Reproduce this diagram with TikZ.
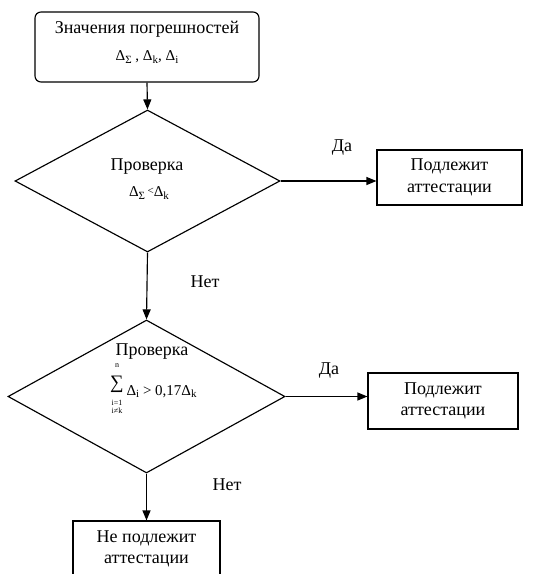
\documentclass[tikz,border=0pt]{standalone}
\usepackage{fontspec}
\setmainfont{Liberation Serif}
\usetikzlibrary{shapes.geometric,arrows.meta}
\newcommand{\bigfnt}{\fontsize{18}{21.5}\selectfont}
\newcommand{\smfnt}{\fontsize{15}{17}\selectfont}
\newcommand{\tinyfnt}{\fontsize{8}{8}\selectfont}
\newcommand{\sumfnt}{\fontsize{19}{19}\selectfont}
\newcommand{\dsub}[1]{Δ\raisebox{-0.35ex}{\fontsize{11}{11}\selectfont #1}}
\begin{document}
\begin{tikzpicture}[x=1pt,y=-1pt,line width=1.15pt,
  box/.style={draw,rectangle,inner sep=0pt,align=center,font=\bigfnt},
  startbox/.style={box,rounded corners=6pt},
  decision/.style={draw,diamond,inner sep=0pt},
  lbl/.style={inner sep=0pt,font=\bigfnt},
  mlbl/.style={inner sep=0pt,font=\smfnt},
  tlbl/.style={inner sep=0pt,font=\tinyfnt},
  arr/.style={-{Triangle[length=10pt,width=8pt]}}]
\fill[white] (0,0) rectangle (541,574);
\useasboundingbox (0,0) rectangle (541,574);
% start
\node[startbox,minimum width=224pt,minimum height=70pt] (start) at (147,47) {};
\node[lbl] (t1) at (147,29) {Значения погрешностей};
\node[mlbl] (t2) at (147,57) {\dsub{Σ} , \dsub{k}, \dsub{i}};
% decision 1
\node[decision,minimum width=265pt,minimum height=142pt] (d1) at (147.5,181) {};
\node[lbl] (d1a) at (147,167) {Проверка};
\node[mlbl] (d1b) at (149,193) {\dsub{Σ}\,\raisebox{0.3ex}{\fontsize{11}{11}\selectfont<}\dsub{k}};
% box 1
\node[box,minimum width=145pt,minimum height=55pt] (b1) at (449.5,177.5) {Подлежит\\аттестации};
% decision 2
\node[decision,minimum width=277pt,minimum height=153pt] (d2) at (146.5,396.5) {};
\node[lbl] (d2a) at (152,352) {Проверка};
\node[tlbl] (sn) at (117,366) {n};
\node[inner sep=0pt,font=\sumfnt] (ss) at (117,384) {∑};
\node[tlbl] (s1) at (117,403) {i=1};
\node[tlbl] (s2) at (117,411) {i≠k};
\node[mlbl,anchor=base west] (d2b) at (126,395) {\dsub{i} > 0,17\dsub{k}};
% box 2
\node[box,minimum width=150pt,minimum height=56pt] (b2) at (443,401) {Подлежит\\аттестации};
% box 3
\node[box,minimum width=147pt,minimum height=56pt] (b3) at (146.5,549) {Не подлежит\\аттестации};
% labels
\node[lbl] (y1) at (342,148) {Да};
\node[lbl] (n1) at (205,282) {Нет};
\node[lbl] (y2) at (329,371) {Да};
\node[lbl] (n2) at (227,485) {Нет};
% connectors
\draw[arr] (start.south) -- (d1.north);
\draw[arr] (d1.east) -- (d1.east -| b1.west);
\draw[arr] (d1.south) -- (d2.north);
\draw[arr] (d2.east) -- (d2.east -| b2.west);
\draw[arr] (d2.south) -- (b3.north);
\end{tikzpicture}
\end{document}
